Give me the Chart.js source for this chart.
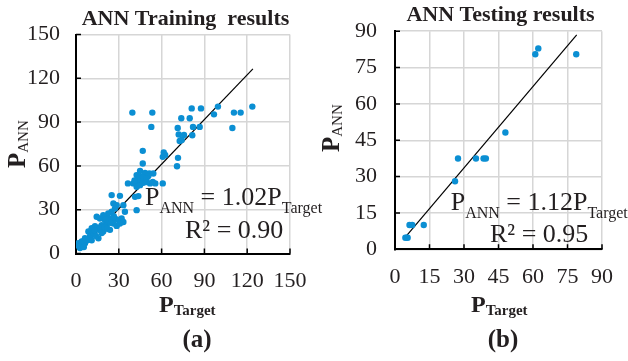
<!DOCTYPE html>
<html>
<head>
<meta charset="utf-8">
<script src="https://cdn.jsdelivr.net/npm/chart.js@4.4.1/dist/chart.umd.min.js"></script>
<style>
  html, body { margin: 0; padding: 0; background: #fff; }
  #wrap { position: relative; width: 628px; height: 361px; overflow: hidden; }
  canvas { position: absolute; top: 0; }
  #cA { left: 0; }
  #cB { left: 314px; }
</style>
</head>
<body>
<div id="wrap">
  <canvas id="cA" width="330" height="361"></canvas>
  <canvas id="cB" width="314" height="361"></canvas>
</div>
<script>
// training set (panel a) : target vs predicted
const trainTarget = [
  39.5, 53.5, 52.8, 46.8, 46.8, 61.5, 60.8, 62.5, 71.5, 70.8,
  71.3, 72.0, 75.7, 72.7, 74.1, 73.8, 79.7, 81.1, 82.0, 81.5,
  86.7, 87.6, 99.5, 96.7, 110.7, 115.4, 109.6, 123.6,
  48.4, 51.4, 54.2, 44.9, 42.5, 45.3, 48.4, 50.7, 36.4, 40.2,
  43.7, 47.2, 51.9, 55.6, 60.8, 46.7, 49.5, 53.8, 42.5, 44.9,
  41.4, 43.7, 42.5, 45.0, 47.0, 43.0, 49.5, 41.0,
  25.0, 30.8, 26.2, 28.5, 33.2, 27.3, 34.3, 25.0, 22.6, 19.1,
  14.5, 16.8, 20.3, 22.6, 25.0, 27.3, 29.7, 32.0, 33.2, 30.8,
  26.2, 21.5, 18.0, 13.3, 15.7, 19.1, 11.0, 23.8, 28.5, 8.7,
  15.7, 9.8, 6.3, 4.0, 1.6, 6.3, 2.8, 5.1, 2.8, 0.8,
  10.0, 12.0, 14.0, 18.0, 8.0, 11.0, 13.0, 17.0, 20.0, 22.0,
  24.0, 26.5, 21.0, 3.5, 4.5, 7.0, 2.0, 5.5
]
const trainPred = [
  96.5, 96.5, 86.7, 70.3, 61.6, 69.2, 66.2, 67.5, 65.5, 59.8,
  86.0, 81.5, 81.2, 77.1, 77.8, 92.6, 92.6, 99.4, 86.7, 81.0,
  86.7, 99.4, 100.6, 95.3, 96.5, 96.5, 86.0, 100.6,
  55.2, 54.8, 54.8, 56.6, 53.7, 53.0, 54.3, 53.0, 48.0, 48.0,
  48.0, 48.5, 48.0, 48.0, 48.0, 49.0, 49.0, 49.0, 45.7, 46.8,
  38.8, 39.3, 29.7, 51.0, 52.0, 50.5, 51.5, 50.0,
  40.0, 39.5, 34.3, 33.1, 33.1, 30.9, 28.6, 28.6, 27.5, 26.3,
  25.2, 24.0, 22.9, 24.0, 22.9, 24.0, 22.9, 24.0, 21.6, 20.5,
  20.5, 20.1, 19.4, 18.7, 16.2, 15.1, 17.3, 16.2, 18.9, 15.1,
  10.4, 11.5, 10.4, 8.2, 7.1, 7.1, 5.3, 6.0, 3.7, 4.9,
  12.0, 14.0, 12.0, 14.0, 9.0, 9.0, 16.0, 18.0, 18.0, 17.0,
  21.0, 25.5, 23.5, 6.0, 8.0, 9.5, 5.0, 4.5
]
// testing set (panel b)
const testTarget = [4.5, 5.0, 5.5, 6.3, 7.5, 12.5, 26.1, 27.4, 35.2, 38.5, 39.5, 48.0, 61.0, 62.3, 78.8]
const testPred   = [4.8, 4.8, 4.8, 10.0, 10.0, 10.0, 28.1, 37.5, 37.5, 37.5, 37.5, 48.2, 80.5, 82.9, 80.5]

// fitted lines P_ANN = k * P_Target
const trainSlope = 1.02
const trainFitX = [2, 124]
const testSlope = 1.12
const testFitX = [4.5, 79]

const trainTicks = [0, 30, 60, 90, 120, 150]
const testTicks = [0, 15, 30, 45, 60, 75, 90]

const SERIF = "'Liberation Serif', 'Times New Roman', serif"
const DOT = '#0b8fd3'

// draws a row of text pieces (for subscripts), left aligned or centered
function drawRuns(ctx, x, y, runs, align) {
  let total = 0
  runs.forEach(r => { ctx.font = r[1]; total += ctx.measureText(r[0]).width })
  let cx = align === 'center' ? x - total / 2 : x
  ctx.textAlign = 'left'
  ctx.textBaseline = 'alphabetic'
  runs.forEach(r => {
    ctx.font = r[1]
    ctx.fillText(r[0], cx, y + (r[2] || 0))
    cx += ctx.measureText(r[0]).width
  })
}

function makePanel(id, p) {
  const decor = {
    id: 'decor',
    afterDraw(chart) {
      const ctx = chart.ctx
      const xs = chart.scales.x, ys = chart.scales.y
      const a = chart.chartArea
      ctx.save()
      // inward tick marks
      ctx.strokeStyle = '#000'
      ctx.lineWidth = 1.5
      ctx.beginPath()
      p.ticks.forEach(v => {
        const px = xs.getPixelForValue(v)
        ctx.moveTo(px, a.bottom); ctx.lineTo(px, a.bottom - 5)
        const py = ys.getPixelForValue(v)
        ctx.moveTo(a.left, py); ctx.lineTo(a.left + 5, py)
      })
      ctx.stroke()

      ctx.fillStyle = '#231f20'
      // title
      drawRuns(ctx, p.title[1], p.title[2], [[p.title[0], 'bold 22px ' + SERIF]], 'center')
      // y axis title, rotated
      ctx.save()
      ctx.translate(p.yTitle[0], p.yTitle[1])
      ctx.rotate(-Math.PI / 2)
      drawRuns(ctx, 0, 0, [['P', 'bold 25px ' + SERIF], ['ANN', '15px ' + SERIF, 3]], 'left')
      ctx.restore()
      // x axis title
      drawRuns(ctx, p.xTitle[0], p.xTitle[1], [['P', 'bold 24px ' + SERIF], ['Target', 'bold 15px ' + SERIF, 3]], 'left')
      // regression text
      drawRuns(ctx, p.eq[0], p.eq[1], [
        ['P', '26px ' + SERIF], ['ANN', '16px ' + SERIF, 8],
        [' = ' + p.slope.toFixed(2) + 'P', '26px ' + SERIF], ['Target', '16px ' + SERIF, 8]
      ], 'left')
      drawRuns(ctx, p.r2[1], p.r2[2], [[p.r2[0], '26px ' + SERIF]], 'left')
      // panel tag
      drawRuns(ctx, p.tag[1], p.tag[2], [[p.tag[0], 'bold 25px ' + SERIF]], 'center')
      ctx.restore()
    }
  }

  const max = p.ticks[p.ticks.length - 1]
  const step = p.ticks[1] - p.ticks[0]
  const axis = (pad) => ({
    type: 'linear',
    min: 0, max: max,
    ticks: { stepSize: step, color: '#231f20', padding: pad, font: { family: SERIF, size: 22 } },
    grid: { color: '#d6d6d6', lineWidth: 1.5, drawTicks: false },
    border: { display: true, color: '#000', width: 2 }
  })
  const xAxis = axis(p.xPad)
  xAxis.afterFit = s => { s.height = p.xHeight }
  const yAxis = axis(p.yPad)
  yAxis.afterFit = s => { s.width = p.yWidth }

  return new Chart(document.getElementById(id), {
    type: 'scatter',
    data: {
      datasets: [
        {
          data: p.tx.map((v, i) => ({ x: v, y: p.ty[i] })),
          backgroundColor: DOT, borderColor: DOT,
          pointRadius: 3.2, pointBorderWidth: 0
        },
        {
          data: p.fitX.map(v => ({ x: v, y: v * p.slope })),
          showLine: true, borderColor: '#000', borderWidth: 1.2,
          pointRadius: 0
        }
      ]
    },
    options: {
      responsive: false,
      animation: false,
      layout: { padding: { left: 0, right: p.padRight, top: p.padTop, bottom: 0 } },
      plugins: { legend: { display: false }, tooltip: { enabled: false } },
      scales: { x: xAxis, y: yAxis }
    },
    plugins: [decor]
  })
}

makePanel('cA', {
  tx: trainTarget, ty: trainPred, fitX: trainFitX, slope: trainSlope, ticks: trainTicks,
  padTop: 34.5, padRight: 40, yWidth: 76, xHeight: 107.5, yPad: 16, xPad: 15,
  title: ['ANN Training  results', 185.5, 25],
  yTitle: [25, 168],
  xTitle: [159, 312],
  eq: [145, 204.5],
  r2: ['R\u00b2 = 0.90', 185, 238],
  tag: ['(a)', 197, 347]
})

makePanel('cB', {
  tx: testTarget, ty: testPred, fitX: testFitX, slope: testSlope, ticks: testTicks,
  padTop: 30.7, padRight: 22.3, yWidth: 81, xHeight: 111.7, yPad: 18, xPad: 15,
  title: ['ANN Testing results', 186.5, 20.7],
  yTitle: [25, 152],
  xTitle: [157, 312],
  eq: [136.7, 210],
  r2: ['R\u00b2 = 0.95', 176, 241.7],
  tag: ['(b)', 189, 347]
})
</script>
</body>
</html>
